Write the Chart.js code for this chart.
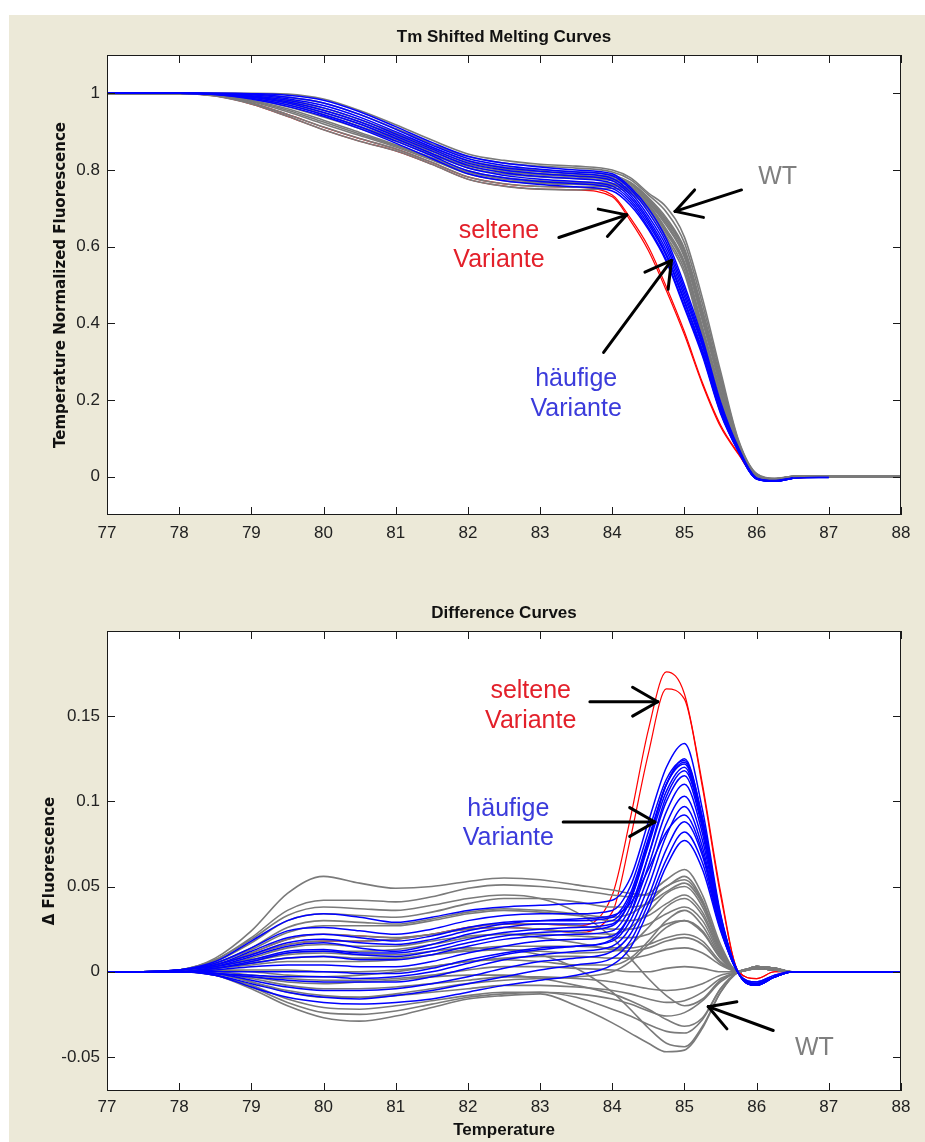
<!DOCTYPE html>
<html>
<head>
<meta charset="utf-8">
<script src="https://cdn.jsdelivr.net/npm/chart.js@4.4.0/dist/chart.umd.min.js"></script>
<style>
html,body{margin:0;padding:0;background:#fff;}
#bg{position:absolute;left:9px;top:15px;width:916px;height:1127px;background:#ece9d8;}
canvas{position:absolute;left:0;}
#top{top:0;}
#bottom{top:560px;}
</style>
</head>
<body>
<div id="bg"></div>
<canvas id="top" width="925" height="560"></canvas>
<canvas id="bottom" width="925" height="582"></canvas>
<script>
// temperature grid shared by every curve
const temps = [77,77.5,78,78.5,79,79.5,80,80.5,81,81.5,82,82.5,83,83.5,84,84.25,84.5,84.75,85,85.25,85.5,85.75,86,86.25,86.5,87,88];

// Tm shifted melting curves (normalized fluorescence)
const meltGray = [
  [1,1,1,1,1,0.998,0.985,0.955,0.918,0.878,0.842,0.825,0.815,0.81,0.8,0.78,0.74,0.703,0.625,0.465,0.275,0.095,0.008,-0.004,0,0,0],
  [1,1,1,1,0.998,0.99,0.975,0.945,0.908,0.868,0.835,0.818,0.81,0.805,0.795,0.775,0.735,0.69,0.61,0.45,0.265,0.092,0.007,-0.005,0,0,0],
  [1,1,1,0.999,0.995,0.983,0.962,0.932,0.897,0.858,0.825,0.808,0.8,0.795,0.787,0.768,0.728,0.675,0.595,0.435,0.255,0.09,0.006,-0.006,0,0,0],
  [1,1,1,0.998,0.99,0.975,0.95,0.92,0.885,0.848,0.815,0.798,0.79,0.786,0.778,0.762,0.722,0.665,0.585,0.42,0.245,0.088,0.005,-0.006,0,0,0],
  [1,1,1,0.997,0.985,0.965,0.938,0.908,0.875,0.84,0.806,0.79,0.782,0.778,0.772,0.755,0.715,0.655,0.572,0.405,0.235,0.086,0.004,-0.007,0,0,0],
  [1,1,1,0.996,0.982,0.96,0.93,0.898,0.866,0.832,0.798,0.78,0.772,0.768,0.765,0.75,0.71,0.645,0.56,0.39,0.225,0.084,0.003,-0.007,0,0,0],
  [1,1,1,0.995,0.978,0.952,0.92,0.89,0.86,0.826,0.79,0.772,0.765,0.762,0.76,0.746,0.705,0.635,0.55,0.378,0.215,0.082,0.003,-0.008,0,0,0],
  [1,1,1,0.994,0.975,0.945,0.912,0.882,0.855,0.82,0.782,0.764,0.757,0.755,0.758,0.745,0.7,0.627,0.54,0.368,0.205,0.08,0.002,-0.008,0,0,0],
  [1,1,1,0.993,0.972,0.94,0.905,0.875,0.85,0.815,0.776,0.758,0.75,0.748,0.752,0.74,0.697,0.62,0.53,0.36,0.198,0.078,0.002,-0.008,0,0,0],
  [1,1,1,0.998,0.988,0.97,0.945,0.914,0.88,0.843,0.81,0.795,0.787,0.782,0.775,0.758,0.718,0.66,0.578,0.412,0.24,0.087,0.004,-0.006,0,0,0],
  [1,1,1,0.999,0.993,0.979,0.956,0.926,0.891,0.853,0.82,0.803,0.795,0.79,0.782,0.765,0.725,0.67,0.59,0.428,0.25,0.089,0.005,-0.006,0,0,0],
  [1,1,1,0.995,0.98,0.956,0.925,0.894,0.863,0.829,0.794,0.776,0.768,0.765,0.762,0.748,0.708,0.64,0.555,0.385,0.22,0.083,0.003,-0.007,0,0,0]
];
const meltBlue = [
  [1,1,1,1,0.999,0.995,0.982,0.952,0.913,0.872,0.836,0.818,0.808,0.8,0.79,0.755,0.7,0.62,0.5,0.36,0.195,0.075,-0.003,-0.01,-0.004,-0.002,null],
  [1,1,1,1,0.998,0.99,0.975,0.945,0.906,0.865,0.83,0.812,0.802,0.795,0.785,0.75,0.69,0.61,0.49,0.35,0.19,0.072,-0.004,-0.011,-0.004,-0.002,null],
  [1,1,1,0.999,0.996,0.986,0.968,0.938,0.9,0.86,0.824,0.806,0.797,0.79,0.778,0.742,0.68,0.6,0.48,0.345,0.185,0.07,-0.004,-0.011,-0.004,null,null],
  [1,1,1,0.999,0.994,0.982,0.962,0.932,0.894,0.855,0.818,0.8,0.79,0.784,0.772,0.735,0.672,0.59,0.47,0.34,0.18,0.07,-0.005,-0.012,-0.004,null,null],
  [1,1,1,0.998,0.992,0.978,0.956,0.926,0.888,0.85,0.812,0.793,0.783,0.777,0.765,0.728,0.665,0.58,0.46,0.33,0.175,0.068,-0.005,-0.012,-0.004,null,null],
  [1,1,1,0.998,0.99,0.975,0.95,0.92,0.882,0.843,0.805,0.786,0.776,0.77,0.758,0.722,0.658,0.575,0.455,0.325,0.17,0.066,-0.006,-0.012,-0.004,null,null],
  [1,1,1,0.997,0.987,0.97,0.944,0.913,0.876,0.837,0.798,0.78,0.77,0.764,0.752,0.715,0.65,0.565,0.445,0.32,0.168,0.065,-0.006,-0.012,-0.004,null,null],
  [1,1,1,0.997,0.985,0.966,0.94,0.908,0.87,0.83,0.79,0.772,0.762,0.756,0.745,0.708,0.645,0.56,0.44,0.315,0.165,0.065,-0.006,-0.012,-0.004,null,null]
];
const meltRed = [
  [1,1,1,0.994,0.975,0.945,0.912,0.882,0.855,0.82,0.782,0.764,0.757,0.755,0.735,0.675,0.6,0.495,0.378,0.245,0.135,0.06,-0.004,-0.01,-0.004,0,0],
  [1,1,1,0.993,0.972,0.94,0.905,0.875,0.85,0.815,0.776,0.758,0.75,0.748,0.73,0.668,0.59,0.485,0.37,0.24,0.13,0.058,-0.004,-0.01,-0.004,0,0]
];

// difference curves (delta fluorescence)
const diffGray = [
  [0,0,0.001,0.008,0.024,0.046,0.056,0.052,0.049,0.05,0.053,0.055,0.054,0.051,0.048,0.046,0.045,0.05,0.056,0.042,0.014,0,0.003,0.002,0,0,0],
  [0,0,0.001,0.007,0.02,0.036,0.042,0.042,0.041,0.044,0.049,0.051,0.05,0.048,0.045,0.044,0.046,0.054,0.06,0.045,0.016,0,0.003,0.002,0,0,0],
  [0,0,0.001,0.006,0.017,0.03,0.034,0.033,0.032,0.035,0.04,0.043,0.043,0.041,0.038,0.038,0.04,0.047,0.052,0.04,0.014,0,0.003,0.002,0,0,0],
  [0,0,0.001,0.005,0.013,0.023,0.027,0.027,0.027,0.03,0.034,0.036,0.035,0.033,0.03,0.03,0.033,0.04,0.045,0.035,0.012,0,0.003,0.002,0,0,0],
  [0,0,0.001,0.004,0.01,0.016,0.018,0.018,0.019,0.022,0.026,0.028,0.028,0.027,0.025,0.025,0.028,0.034,0.038,0.03,0.01,0,0.003,0.002,0,0,0],
  [0,0,0,0.003,0.007,0.011,0.012,0.012,0.013,0.016,0.02,0.022,0.022,0.021,0.02,0.02,0.022,0.028,0.03,0.024,0.008,0,0.003,0.002,0,0,0],
  [0,0,0,0.002,0.004,0.006,0.006,0.006,0.007,0.01,0.013,0.015,0.015,0.015,0.014,0.014,0.016,0.02,0.022,0.018,0.006,0,0.002,0.002,0,0,0],
  [0,0,0,0.001,0.001,0.001,0,0,0.001,0.003,0.006,0.008,0.009,0.009,0.008,0.008,0.01,0.013,0.014,0.011,0.004,0,0.002,0.001,0,0,0],
  [0,0,0,0,-0.002,-0.004,-0.005,-0.005,-0.004,-0.002,0.001,0.003,0.003,0.002,0.001,0,0,0.002,0.003,0.002,0,0,0.002,0.001,0,0,0],
  [0,0,0,-0.001,-0.004,-0.008,-0.01,-0.01,-0.009,-0.007,-0.005,-0.003,-0.003,-0.004,-0.006,-0.008,-0.01,-0.011,-0.01,-0.007,-0.002,0,0.002,0.001,0,0,0],
  [0,0,0,-0.001,-0.006,-0.011,-0.014,-0.015,-0.014,-0.012,-0.01,-0.008,-0.008,-0.009,-0.011,-0.013,-0.016,-0.018,-0.017,-0.012,-0.004,0,0.002,0.001,0,0,0],
  [0,0,0,-0.002,-0.008,-0.016,-0.021,-0.022,-0.02,-0.017,-0.014,-0.012,-0.012,-0.013,-0.016,-0.019,-0.023,-0.026,-0.024,-0.017,-0.006,0,0.002,0.001,0,0,0],
  [0,0,0,-0.002,-0.01,-0.02,-0.027,-0.029,-0.026,-0.021,-0.016,-0.014,-0.013,-0.02,-0.03,-0.036,-0.042,-0.047,-0.046,-0.033,-0.012,0,0.002,0.001,0,0,0],
  [0,0,0,0.002,0.006,0.01,0.011,0.01,0.01,0.012,0.014,0.013,0.01,0.002,-0.012,-0.022,-0.033,-0.042,-0.044,-0.032,-0.012,0,0.002,0.001,0,0,0],
  [0,0,0.001,0.004,0.011,0.019,0.022,0.021,0.02,0.022,0.025,0.026,0.025,0.023,0.022,0.026,0.035,0.046,0.05,0.038,0.013,0,0.003,0.002,0,0,0],
  [0,0,0,0.001,0,-0.002,-0.003,-0.002,0,0.003,0.006,0.007,0.006,0.004,0.004,0.008,0.018,0.03,0.036,0.027,0.009,0,0.003,0.002,0,0,0],
  [0,0,0,-0.001,-0.003,-0.006,-0.007,-0.006,-0.005,-0.003,-0.002,-0.002,-0.004,-0.008,-0.013,-0.017,-0.022,-0.028,-0.032,-0.027,-0.01,0,0.002,0.001,0,0,0],
  [0,0,0.001,0.005,0.014,0.026,0.03,0.029,0.028,0.031,0.035,0.037,0.036,0.034,0.032,0.034,0.041,0.05,0.054,0.041,0.014,0,0.003,0.002,0,0,0],
  [0,0,0,0.002,0.005,0.008,0.009,0.008,0.008,0.01,0.012,0.013,0.012,0.011,0.012,0.016,0.026,0.038,0.043,0.033,0.011,0,0.003,0.002,0,0,0],
  [0,0,0,-0.001,-0.006,-0.012,-0.015,-0.015,-0.013,-0.01,-0.007,-0.005,-0.004,-0.003,0,0.006,0.016,0.026,0.03,0.023,0.008,0,0.003,0.002,0,0,0],
  [0,0,0,0.003,0.008,0.014,0.016,0.015,0.015,0.018,0.021,0.022,0.02,0.017,0.013,0.012,0.014,0.018,0.02,0.016,0.005,0,0.002,0.001,0,0,0],
  [0,0,0.001,0.007,0.019,0.033,0.038,0.037,0.036,0.039,0.043,0.045,0.043,0.035,0.02,0.008,-0.004,-0.014,-0.02,-0.016,-0.005,0,0.002,0.001,0,0,0],
  [0,0,0,-0.002,-0.009,-0.018,-0.024,-0.025,-0.023,-0.019,-0.015,-0.013,-0.012,-0.015,-0.022,-0.026,-0.031,-0.035,-0.036,-0.028,-0.01,0,0.002,0.001,0,0,0]
];
const diffBlue = [
  [0,0,0.001,0.006,0.018,0.03,0.034,0.032,0.029,0.032,0.036,0.038,0.039,0.04,0.042,0.055,0.088,0.12,0.134,0.095,0.034,-0.001,-0.008,-0.003,0,0,0],
  [0,0,0.001,0.005,0.014,0.024,0.026,0.024,0.022,0.025,0.03,0.033,0.034,0.034,0.036,0.05,0.082,0.113,0.124,0.09,0.033,-0.001,-0.008,-0.003,0,0,0],
  [0,0,0.001,0.004,0.01,0.017,0.019,0.017,0.016,0.019,0.024,0.028,0.03,0.03,0.032,0.046,0.078,0.11,0.122,0.088,0.032,-0.001,-0.008,-0.003,0,0,0],
  [0,0,0.001,0.003,0.007,0.012,0.013,0.011,0.011,0.014,0.019,0.023,0.025,0.026,0.028,0.042,0.074,0.106,0.12,0.087,0.031,-0.001,-0.008,-0.003,0,0,0],
  [0,0,0,0.002,0.005,0.008,0.009,0.007,0.007,0.01,0.015,0.019,0.021,0.022,0.024,0.038,0.068,0.1,0.115,0.084,0.03,-0.001,-0.007,-0.003,0,0,0],
  [0,0,0,0.001,0.003,0.004,0.004,0.003,0.003,0.006,0.011,0.015,0.018,0.019,0.021,0.034,0.062,0.094,0.11,0.081,0.029,-0.001,-0.007,-0.003,0,0,0],
  [0,0,0,0,0,0,0,-0.001,-0.001,0.002,0.007,0.011,0.014,0.015,0.018,0.03,0.056,0.087,0.103,0.077,0.028,-0.001,-0.007,-0.003,0,0,0],
  [0,0,0,-0.001,-0.003,-0.005,-0.006,-0.006,-0.006,-0.003,0.002,0.007,0.01,0.012,0.015,0.026,0.05,0.08,0.097,0.073,0.027,-0.001,-0.007,-0.003,0,0,0],
  [0,0,0,-0.001,-0.005,-0.009,-0.011,-0.011,-0.01,-0.007,-0.003,0.002,0.006,0.008,0.012,0.022,0.044,0.072,0.088,0.068,0.026,-0.001,-0.007,-0.003,0,0,0],
  [0,0,0,-0.002,-0.007,-0.012,-0.015,-0.016,-0.014,-0.011,-0.007,-0.003,0.001,0.004,0.008,0.018,0.04,0.066,0.082,0.064,0.025,-0.001,-0.006,-0.002,0,0,0],
  [0,0,0,-0.002,-0.009,-0.015,-0.018,-0.019,-0.018,-0.016,-0.012,-0.008,-0.005,-0.002,0.004,0.014,0.036,0.062,0.077,0.06,0.024,-0.001,-0.006,-0.002,0,0,0],
  [0,0,0,0.003,0.009,0.015,0.017,0.014,0.012,0.016,0.022,0.026,0.028,0.028,0.03,0.044,0.076,0.11,0.123,0.089,0.032,-0.001,-0.008,-0.003,0,0,0],
  [0,0,0,0.002,0.006,0.011,0.012,0.01,0.009,0.012,0.017,0.021,0.023,0.024,0.027,0.042,0.076,0.11,0.125,0.09,0.032,-0.001,-0.008,-0.003,0,0,0],
  [0,0,0,-0.001,-0.002,-0.003,-0.003,-0.004,-0.003,0,0.005,0.01,0.013,0.015,0.019,0.034,0.068,0.103,0.118,0.086,0.031,-0.001,-0.008,-0.003,0,0,0],
  [0,0,0.001,0.004,0.012,0.02,0.022,0.02,0.018,0.021,0.026,0.029,0.03,0.031,0.033,0.04,0.06,0.082,0.092,0.07,0.026,-0.001,-0.007,-0.003,0,0,0]
];
const diffRed = [
  [0,0,0.001,0.004,0.01,0.016,0.018,0.018,0.019,0.022,0.026,0.028,0.028,0.027,0.045,0.09,0.142,0.176,0.163,0.11,0.047,0,-0.004,0,0,0,0],
  [0,0,0.001,0.004,0.011,0.019,0.022,0.021,0.02,0.022,0.025,0.026,0.025,0.023,0.035,0.078,0.128,0.166,0.16,0.108,0.045,0,-0.004,0,0,0,0]
];

// ticks
const xTicks = [77,78,79,80,81,82,83,84,85,86,87,88];
const meltTicks = [0,0.2,0.4,0.6,0.8,1];
const meltTickLabels = ['0','0.2','0.4','0.6','0.8','1'];
const diffTicks = [-0.05,0,0.05,0.1,0.15];
const diffTickLabels = ['-0.05','0','0.05','0.1','0.15'];

const RED='#ff0000', BLUE='#0000ff', GRAY='#7a7a7a';
const TXT_RED='#e3202a', TXT_BLUE='#3b3bdb', TXT_GRAY='#7f7f7f';

// annotations, in data units (text anchor = baseline centre, arrow = tail -> tip)
const meltNotes = [
  {text:'WT', x:86.29, y:0.764, color:TXT_GRAY},
  {text:'seltene', x:82.43, y:0.623, color:TXT_RED},
  {text:'Variante', x:82.43, y:0.547, color:TXT_RED},
  {text:'häufige', x:83.50, y:0.236, color:TXT_BLUE},
  {text:'Variante', x:83.50, y:0.158, color:TXT_BLUE}
];
const meltArrows = [[85.79,0.748,84.87,0.692],[83.26,0.624,84.20,0.683],[83.88,0.324,84.82,0.564]];
const diffNotes = [
  {text:'seltene', x:82.87, y:0.1606, color:TXT_RED},
  {text:'Variante', x:82.87, y:0.1428, color:TXT_RED},
  {text:'häufige', x:82.56, y:0.0916, color:TXT_BLUE},
  {text:'Variante', x:82.56, y:0.0743, color:TXT_BLUE},
  {text:'WT', x:86.80, y:-0.0488, color:TXT_GRAY}
];
const diffArrows = [[83.69,0.1585,84.63,0.1585],[83.32,0.0879,84.59,0.0879],[86.23,-0.0345,85.33,-0.0205]];

const SANS = '"Liberation Sans", Arial, sans-serif';

function series(vals){ return temps.map((t,i)=>({x:t,y:vals[i]})); }
function lines(group,color,w){
  return group.map(v=>({data:series(v),borderColor:color,borderWidth:w,pointRadius:0,fill:false,cubicInterpolationMode:'monotone'}));
}

function seg(ctx,x1,y1,x2,y2){ ctx.beginPath(); ctx.moveTo(x1,y1); ctx.lineTo(x2,y2); ctx.stroke(); }

const matlabFrame = {
  id:'matlabFrame',
  beforeDraw(chart){
    const a=chart.chartArea, ctx=chart.ctx;
    ctx.save(); ctx.fillStyle='#fff'; ctx.fillRect(a.left,a.top,a.right-a.left,a.bottom-a.top); ctx.restore();
  },
  afterDraw(chart,args,o){
    const {left,right,top,bottom}=chart.chartArea, ctx=chart.ctx;
    const xs=chart.scales.x, ys=chart.scales.y;
    ctx.save();
    ctx.strokeStyle='#1a1a1a'; ctx.lineWidth=1;
    ctx.strokeRect(left+0.5,top+0.5,right-left-1,bottom-top-1);
    xs.ticks.forEach(t=>{ const p=Math.round(xs.getPixelForValue(t.value))+0.5; seg(ctx,p,top,p,top+8); seg(ctx,p,bottom,p,bottom-8); });
    ys.ticks.forEach(t=>{ const p=Math.round(ys.getPixelForValue(t.value))+0.5; seg(ctx,left,p,left+8,p); seg(ctx,right,p,right-8,p); });
    // titles
    ctx.fillStyle='#111'; ctx.textAlign='center'; ctx.textBaseline='alphabetic';
    ctx.font='bold 17px '+SANS;
    ctx.fillText(o.title,(left+right)/2,top-13);
    if(o.xTitle) ctx.fillText(o.xTitle,(left+right)/2,bottom+43.5);
    ctx.save();
    ctx.translate(o.yTitleX,(top+bottom)/2); ctx.rotate(-Math.PI/2);
    ctx.font='bold 15px "DejaVu Sans", Verdana, sans-serif'; ctx.textBaseline='middle';
    ctx.fillText(o.yTitle,0,0);
    ctx.restore();
    // annotations
    ctx.font='25px '+SANS; ctx.textBaseline='alphabetic';
    o.notes.forEach(n=>{ ctx.fillStyle=n.color; ctx.fillText(n.text,xs.getPixelForValue(n.x),ys.getPixelForValue(n.y)); });
    ctx.strokeStyle='#000'; ctx.lineWidth=3; ctx.lineCap='round';
    o.arrows.forEach(a=>{
      const x1=xs.getPixelForValue(a[0]), y1=ys.getPixelForValue(a[1]);
      const x2=xs.getPixelForValue(a[2]), y2=ys.getPixelForValue(a[3]);
      seg(ctx,x1,y1,x2,y2);
      const ang=Math.atan2(y1-y2,x1-x2);
      [-0.52,0.52].forEach(d=>seg(ctx,x2,y2,x2+29*Math.cos(ang+d),y2+29*Math.sin(ang+d)));
    });
    ctx.restore();
  }
};

function makeChart(id,cfg){
  return new Chart(document.getElementById(id),{
    type:'line',
    // first dataset is painted last: blue over gray, red underneath
    data:{datasets:[...lines(cfg.blue,BLUE,1.5),...lines(cfg.gray,GRAY,1.6),...lines(cfg.red,RED,1.2)]},
    options:{
      responsive:false, animation:false, devicePixelRatio:1,
      layout:{padding:{top:cfg.padTop,left:0,right:24,bottom:0}},
      plugins:{legend:{display:false},tooltip:{enabled:false},
        matlabFrame:{title:cfg.title,xTitle:cfg.xTitle,yTitle:cfg.yTitle,yTitleX:cfg.yTitleX,notes:cfg.notes,arrows:cfg.arrows}},
      scales:{
        x:{type:'linear',min:77,max:88,
          afterBuildTicks:s=>{ s.ticks=xTicks.map(v=>({value:v})); },
          afterFit:s=>{ s.height=cfg.xHeight; },
          grid:{display:false,drawTicks:false},border:{display:false},
          ticks:{font:{family:SANS,size:17},color:'#222',padding:cfg.xPad,maxRotation:0,autoSkip:false,callback:v=>String(v)}},
        y:{type:'linear',min:cfg.yMin,max:cfg.yMax,
          afterBuildTicks:s=>{ s.ticks=cfg.yTicks.map(v=>({value:v})); },
          afterFit:s=>{ s.width=107; },
          grid:{display:false,drawTicks:false},border:{display:false},
          ticks:{font:{family:SANS,size:17},color:'#222',padding:7,autoSkip:false,
            callback:v=>{ const i=cfg.yTicks.indexOf(v); return i>=0?cfg.yLabels[i]:''; }}}
      }
    },
    plugins:[matlabFrame]
  });
}

makeChart('top',{gray:meltGray,blue:meltBlue,red:meltRed,padTop:55,xHeight:45,xPad:8,
  yMin:-0.1,yMax:1.1,yTicks:meltTicks,yLabels:meltTickLabels,
  title:'Tm Shifted Melting Curves',yTitle:'Temperature Normalized Fluorescence',yTitleX:61,
  notes:meltNotes,arrows:meltArrows});

makeChart('bottom',{gray:diffGray,blue:diffBlue,red:diffRed,padTop:71,xHeight:51,xPad:6,
  yMin:-0.07,yMax:0.2,yTicks:diffTicks,yLabels:diffTickLabels,
  title:'Difference Curves',xTitle:'Temperature',yTitle:'Δ Fluorescence',yTitleX:50,
  notes:diffNotes,arrows:diffArrows});
</script>
</body>
</html>
